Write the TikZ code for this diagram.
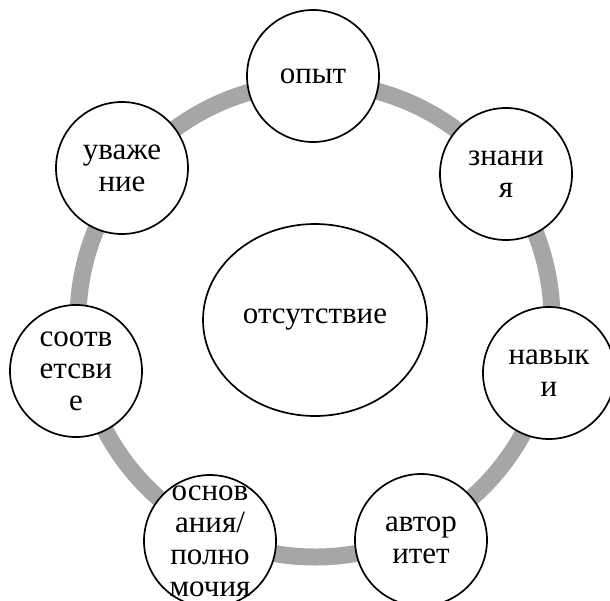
\documentclass[tikz,border=0pt]{standalone}
\usepackage{fontspec}
\setmainfont{Liberation Serif}
\usetikzlibrary{shapes.geometric}
\definecolor{ringgray}{RGB}{166,166,166}
\begin{document}
\begin{tikzpicture}[x=1pt,y=-1pt,
  ring/.style={draw=ringgray, line width=17pt},
  bubble/.style={circle, draw=black, line width=1.7pt, fill=white,
    minimum size=132pt, inner sep=0pt},
  core/.style={ellipse, draw=black, line width=1.7pt, fill=white,
    minimum width=224pt, minimum height=192pt, inner sep=0pt},
  words/.style={align=center, inner sep=0pt,
    font=\fontsize{31}{32}\selectfont}]
\useasboundingbox (0,0) rectangle (610,600);
\coordinate (O) at (315,320);
% grey ring behind everything
\draw[ring] (O) circle[radius=237pt];
% central ellipse
\node[core] (centre) at (O) {};
\node[words] (centretext) at (centre) {отсутствие};
% seven circles around the ring
\node[bubble] (b1) at (313,76) {};
\node[bubble] (b2) at (506,174) {};
\node[bubble] (b3) at (549,373) {};
\node[bubble] (b4) at (421,540) {};
\node[bubble] (b5) at (210,541) {};
\node[bubble] (b6) at (76,371) {};
\node[bubble] (b7) at (122,168) {};
\node[words] (t1) at (b1) {опыт};
\node[words] (t2) at (b2) {знани\\я};
\node[words] (t3) at (b3) {навык\\и};
\node[words] (t4) at (b4) {автор\\итет};
\node[words] (t5) at (b5) {основ\\ания/\\полно\\мочия};
\node[words] (t6) at (b6) {соотв\\етсви\\е};
\node[words] (t7) at (b7) {уваже\\ние};
\end{tikzpicture}
\end{document}
